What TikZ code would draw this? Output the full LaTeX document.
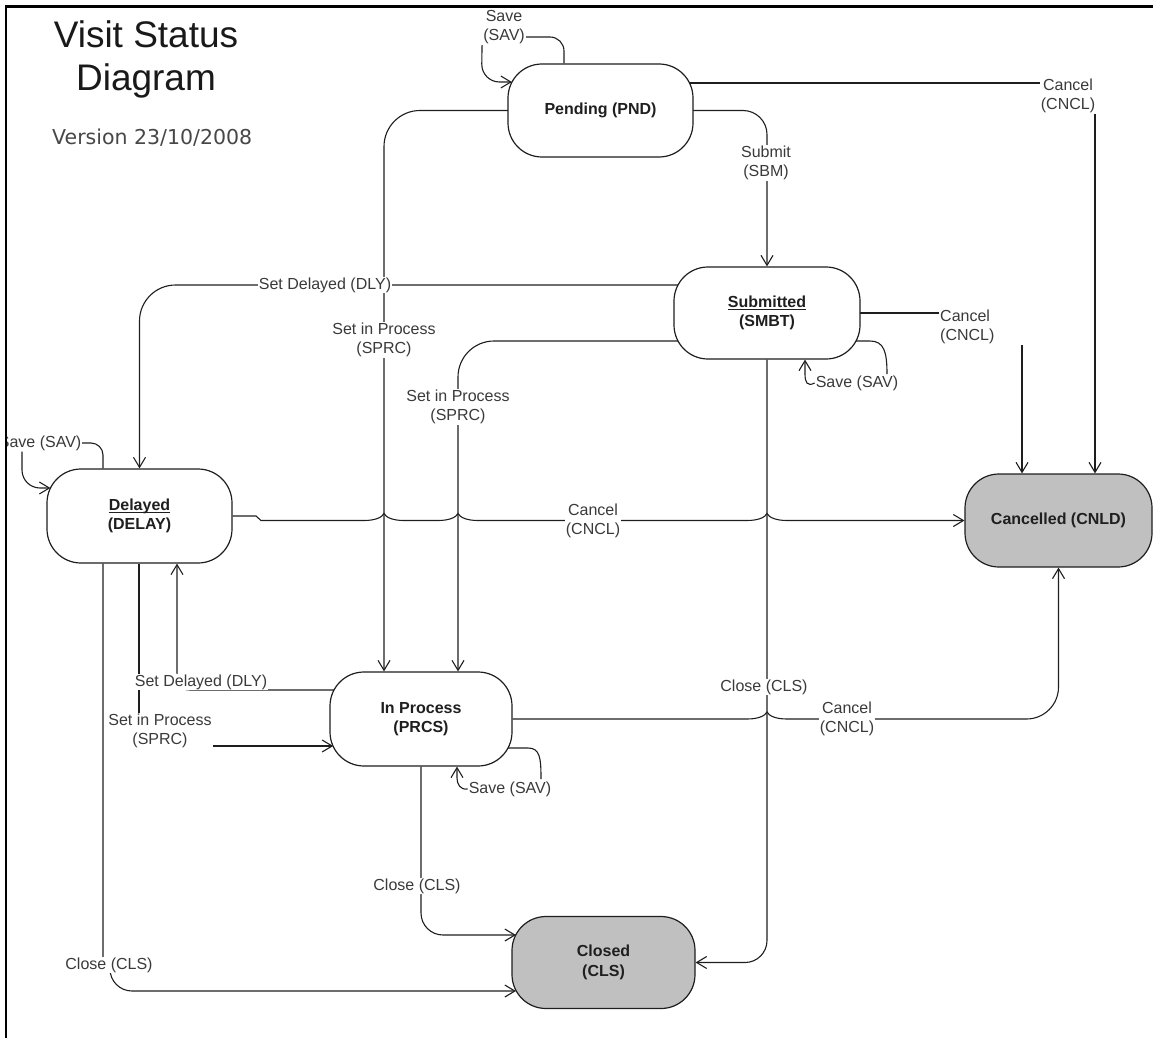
\documentclass[tikz,border=0pt]{standalone}
\usepackage{fontspec}
\setmainfont{Liberation Sans}
\newfontfamily\verfont{DejaVu Sans}
\usetikzlibrary{arrows.meta,calc,backgrounds}
\definecolor{ln}{HTML}{1E1E1E}
\definecolor{lbl}{HTML}{3A3A3A}
\definecolor{endfill}{HTML}{C0C0C0}
\newcommand\labfont{\fontsize{16}{19}\selectfont}
\newcommand\statefont{\bfseries\fontsize{16}{19.5}\selectfont}
\newcommand\ulword[1]{\setbox0=\hbox{#1}\leavevmode\rlap{\rule[-2.6pt]{\wd0}{1.1pt}}\box0}
\newcommand\jumpat[2]{-- ({#1-20},#2) .. controls ({#1-9},#2) and ({#1-2},{#2-3}) .. (#1,{#2-7}) .. controls ({#1+2},{#2-3}) and ({#1+9},#2) .. ({#1+20},#2)}
\begin{document}
\begin{tikzpicture}[x=1pt,y=-1pt,
  state/.style={draw=ln,line width=1.2pt,rounded corners=34pt,fill=white,align=center,inner sep=0pt,font=\statefont,text=black!88},
  lab/.style={fill=white,inner sep=1pt,align=center,font=\labfont,text=lbl},
  conn/.style={draw=ln,line width=1.1pt},
  arr/.style={conn,-{Straight Barb[length=10pt,width=12pt]}}]
\useasboundingbox (0,0) rectangle (1153,1038);
% title
\node[font=\fontsize{37}{43}\selectfont,align=center,text=black!90,inner sep=0pt] (title) at (146,59) {Visit Status\\Diagram};
\node[font=\verfont\fontsize{20.5}{24}\selectfont,text=black!72,anchor=base west,inner sep=0pt] (ver) at (52,144) {Version 23/10/2008};
% states
\node[state,minimum width=185pt,minimum height=93pt] (pnd) at (600.5,110.5) {Pending (PND)};
\node[state,minimum width=186pt,minimum height=92pt] (sbt) at (767,313) {\ulword{Submitted}\\(SMBT)};
\node[state,minimum width=185pt,minimum height=94pt] (dly) at (139.5,516) {\ulword{Delayed}\\(DELAY)};
\node[state,fill=endfill,minimum width=187pt,minimum height=93pt] (cnl) at (1058.5,520.5) {Cancelled (CNLD)};
\node[state,minimum width=182pt,minimum height=94pt] (prc) at (421,719) {In Process\\(PRCS)};
\node[state,fill=endfill,minimum width=183pt,minimum height=92pt] (clo) at (603.5,962.5) {Closed\\(CLS)};
% labels
\node[lab] (lsav1) at (504,27) {Save\\(SAV)};
\node[lab] (lcan1) at (1068,96) {Cancel\\(CNCL)};
\node[lab] (lsbm) at (766,163) {Submit\\(SBM)};
\node[lab] (ldly1) at (325,285) {Set Delayed (DLY)};
\node[lab] (lspr1) at (384,340) {Set in Process\\(SPRC)};
\node[lab] (lspr2) at (458,407) {Set in Process\\(SPRC)};
\node[lab,text width=84pt,align=left,anchor=north west] (lcan2) at (939,309) {Cancel\\(CNCL)};
\node[lab] (lsav2) at (857,383) {Save (SAV)};
\node[lab] (lcan3) at (593,521) {Cancel\\(CNCL)};
\node[lab] (lcls1) at (764,687) {Close (CLS)};
\node[lab] (lcan4) at (847,719) {Cancel\\(CNCL)};
\node[lab] (lsav3) at (510,789) {Save (SAV)};
\node[lab] (ldly2) at (201,682) {Set Delayed (DLY)};
\node[lab] (lspr3) at (160,731) {Set in Process\\(SPRC)};
\node[lab] (lcls2) at (417,886) {Close (CLS)};
\node[lab] (lcls3) at (109,965) {Close (CLS)};
\begin{scope}
\clip (7,400) rectangle (200,470);
\node[lab,anchor=east] (lsav4) at (82.5,443) {Save (SAV)};
\end{scope}
% connectors
\begin{scope}[on background layer]
% Pending self loop
\draw[conn,rounded corners=14pt] (pnd.north -| 564,0) -- (564,37) -- (lsav1.center |- 0,37);
\draw[arr,rounded corners=18pt] (lsav1.south west) -- (481.5,82) -- ($(pnd.west |- 0,82)+(4.5,0)$);
% Pending -> Cancelled
\draw[arr] (pnd.center |- 0,83) -- (1095,83) -- (cnl.north -| 1095,0);
% Pending -> Submitted
\draw[arr,rounded corners=24pt] (pnd.center) -- (767,110.5) -- (sbt.north);
% Pending -> In Process
\draw[arr,rounded corners=36pt] (pnd.center) -- (384,110.5) -- (prc.north -| 384,0);
% Submitted -> Delayed
\draw[arr,rounded corners=36pt] (sbt.center |- 0,285) -- (139.5,285) -- (dly.north);
% Submitted -> In Process
\draw[arr,rounded corners=36pt] (sbt.center |- 0,341) -- (458,341) -- (prc.north -| 458,0);
% Submitted -> Cancelled
\draw[arr] (sbt.center) -- (1022,313) -- (cnl.north -| 1022,0);
% Submitted self loop
\draw[conn] (sbt.center |- 0,341) -- (870,341) .. controls (884,341) and (887,352) .. (887,374);
\draw[arr] (lsav2.west) .. controls (807,387) and (805,382) .. (805,374) -- (sbt.south -| 805,0);
% Submitted -> Closed
\draw[arr,rounded corners=22pt] (sbt.south) -- (767,962.5) -- (clo.east);
% Delayed self loop
\draw[conn,rounded corners=12pt] (dly.north -| 103,0) -- (103,443) -- (lsav4.center |- 0,443);
\draw[arr,rounded corners=18pt] (lsav4.south -| 22,0) -- (22,488) -- ($(dly.west |- 0,488)+(4,0)$);
% Delayed -> Cancelled
\draw[arr] (dly.east) -- (256,516) -- (261,520.5) \jumpat{384}{520.5} \jumpat{458}{520.5} \jumpat{767}{520.5} -- (cnl.west);
% Delayed -> In Process
\draw[arr] (dly.south -| 139,0) -- (139,746) -- ($(prc.west |- 0,746)+(3.8,0)$);
% In Process -> Delayed
\draw[arr] (prc.center |- 0,690) -- (190,690) .. controls (180,690) and (177,684) .. (177,672) -- (dly.south -| 177,0);
% Delayed -> Closed
\draw[arr] (dly.south -| 103,0) -- (103,962) -- (110,967) [rounded corners=22pt] -- (110,991) -- ($(clo.west |- 0,991)+(4.5,0)$);
% In Process -> Closed
\draw[arr,rounded corners=22pt] (prc.south) -- (421,935) -- ($(clo.west |- 0,935)+(4.5,0)$);
% In Process -> Cancelled
\draw[arr] (prc.east) \jumpat{767}{719} [rounded corners=32pt] -- (1058.5,719) -- (cnl.south);
% In Process self loop
\draw[conn] (prc.center |- 0,748) -- (528,748) .. controls (540,748) and (541,758) .. (541,779);
\draw[arr] (lsav3.west) .. controls (460,790) and (457,784) .. (457,778) -- (prc.south -| 457,0);
\end{scope}
% frame
\draw[line width=2.8pt,black] (6,1038) -- (6,6.8) -- (1153,6.8);
\end{tikzpicture}
\end{document}
